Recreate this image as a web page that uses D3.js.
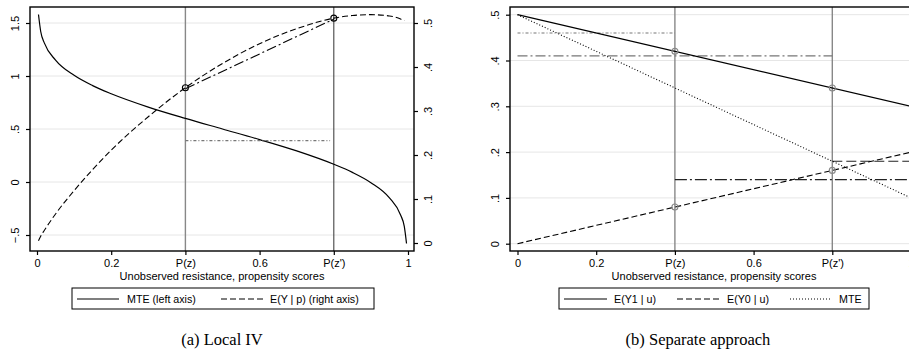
<!DOCTYPE html>
<html>
<head>
<meta charset="utf-8">
<script src="https://cdn.jsdelivr.net/npm/d3@7"></script>
<style>
  body { margin: 0; background: #fff; }
  text { font-family: "Liberation Sans", Arial, sans-serif; fill: #000; }
  .caption { font-family: "Liberation Serif", "DejaVu Serif", serif; font-size: 16.5px; }
</style>
</head>
<body>
<div id="container"></div>
<script>

// ---- data ----

// x axis ticks (both panels)
var xTickVals = [0, 0.2, 0.4, 0.6, 0.8, 1];
var xTickLabels = ["0", "0.2", "P(z)", "0.6", "P(z')", "1"];
var pz = 0.4, pz2 = 0.8;

// panel (a) axes
var leftTickVals = [-0.5, 0, 0.5, 1, 1.5];
var leftTickLabels = ["\u2212.5", "0", ".5", "1", "1.5"];
var rightTickVals = [0, 0.1, 0.2, 0.3, 0.4, 0.5];
var rightTickLabels = ["0", ".1", ".2", ".3", ".4", ".5"];

// panel (a) MTE curve (left axis)
var mteU = [0.004, 0.01, 0.02, 0.05, 0.1, 0.15, 0.2, 0.3, 0.4, 0.5, 0.6, 0.7, 0.8, 0.85, 0.9, 0.95, 0.98, 0.99, 0.996];
var mteVal = [1.58, 1.42, 1.31, 1.15, 1.006, 0.909, 0.833, 0.707, 0.60, 0.50, 0.40, 0.293, 0.167, 0.091, -0.006, -0.15, -0.311, -0.419, -0.58];

// panel (a) E(Y|p) curve (right axis)
var eyU = [0.004, 0.01, 0.02, 0.05, 0.1, 0.15, 0.2, 0.3, 0.4, 0.5, 0.6, 0.7, 0.8, 0.85, 0.9, 0.95, 0.98, 0.99];
var eyVal = [0.005, 0.0155, 0.029, 0.066, 0.119, 0.167, 0.211, 0.287, 0.353, 0.408, 0.453, 0.487, 0.511, 0.517, 0.519, 0.516, 0.509, 0.505];

// LATE level between P(z) and P(z') (left axis)
var lateVal = 0.39;

// panel (b) lines, given at u = 0 and u = 1
var lineU = [0, 1];
var y1Val = [0.5, 0.3];
var y0Val = [0, 0.2];
var mteB = [0.5, 0.1];

// panel (b) markers
var markU = [0.4, 0.8, 0.4, 0.8];
var markVal = [0.42, 0.34, 0.08, 0.16];

// panel (b) horizontal averages: start, end, level
var hStart = [0, 0, 0.4, 0.8];
var hEnd = [0.4, 0.8, 1.02, 1.02];
var hLevel = [0.46, 0.41, 0.14, 0.18];

// ---- drawing ----

var width = 909, height = 360;

var svg = d3.select("#container")
            .append("svg")
              .attr("width", width)
              .attr("height", height);

// styles for the horizontal segments in panel (b)
var hColor = ["#777", "#777", "#222", "#222"];
var hDash = ["3,2,1,2", "10,3,2,3", "12,3,2,3", "10,4"];

function xAxisBottom(g, x, y0) {
  var ax = g.append("g")
    .attr("transform", "translate(0," + y0 + ")")
    .call(d3.axisBottom(x).tickValues(xTickVals).tickSize(4)
            .tickFormat(function(d, i) { return xTickLabels[i]; }));
  ax.select(".domain").remove();
  ax.selectAll("line").attr("stroke", "#000").attr("stroke-width", 1.2);
  ax.selectAll("text").attr("y", 8).attr("dy", "0.71em")
    .style("font-size", "11px").style("font-family", "Liberation Sans, Arial, sans-serif");
}

function yAxisRotated(g, y, x0, vals, labels, side) {
  var axis = side == "left" ? d3.axisLeft(y) : d3.axisRight(y);
  var ax = g.append("g")
    .attr("transform", "translate(" + x0 + ",0)")
    .call(axis.tickValues(vals).tickSize(4)
            .tickFormat(function(d, i) { return labels[i]; }));
  ax.select(".domain").remove();
  ax.selectAll("line").attr("stroke", "#000").attr("stroke-width", 1.2);
  ax.selectAll("text")
    .attr("x", null).attr("dy", null)
    .attr("text-anchor", "middle")
    .attr("transform", side == "left" ? "translate(-11,0) rotate(-90)" : "translate(18,0) rotate(-90)")
    .style("font-size", "11px").style("font-family", "Liberation Sans, Arial, sans-serif");
}

function marker(g, cx, cy, color) {
  g.append("circle")
    .attr("cx", cx).attr("cy", cy).attr("r", 3)
    .attr("fill", "none").attr("stroke", color).attr("stroke-width", 1.1);
}

// ================= panel (a) Local IV =================
var box = {left: 30, right: 414, top: 7, bottom: 251};
var x = d3.scaleLinear().domain([0, 1]).range([37, 408]);
var yL = d3.scaleLinear().domain([0, 1.5]).range([182, 23]);
var yR = d3.scaleLinear().domain([0, 0.5]).range([243, 23]);

var ga = svg.append("g");

// gridlines from the left axis
ga.selectAll(".grid")
  .data(leftTickVals)
  .enter()
  .append("line")
    .attr("x1", box.left).attr("x2", box.right)
    .attr("y1", function(d) { return yL(d); })
    .attr("y2", function(d) { return yL(d); })
    .attr("stroke", "#e6e6e6").attr("stroke-width", 1);

// vertical lines at P(z) and P(z')
ga.append("line")
  .attr("x1", x(pz)).attr("x2", x(pz)).attr("y1", box.top).attr("y2", box.bottom)
  .attr("stroke", "#888").attr("stroke-width", 1.4);
ga.append("line")
  .attr("x1", x(pz2)).attr("x2", x(pz2)).attr("y1", box.top).attr("y2", box.bottom)
  .attr("stroke", "#444").attr("stroke-width", 1.1);

// MTE curve
var mteLine = d3.line()
  .x(function(d, i) { return x(mteU[i]); })
  .y(function(d) { return yL(d); })
  .curve(d3.curveMonotoneX);
ga.append("path")
  .attr("d", mteLine(mteVal))
  .attr("fill", "none").attr("stroke", "#000").attr("stroke-width", 1.2);

// E(Y|p) curve
var eyLine = d3.line()
  .x(function(d, i) { return x(eyU[i]); })
  .y(function(d) { return yR(d); })
  .curve(d3.curveMonotoneX);
ga.append("path")
  .attr("d", eyLine(eyVal))
  .attr("fill", "none").attr("stroke", "#000").attr("stroke-width", 1.1)
  .attr("stroke-dasharray", "6,3");

// chord between the two propensity scores
var eyPz = eyVal[eyU.indexOf(pz)], eyPz2 = eyVal[eyU.indexOf(pz2)];
ga.append("line")
  .attr("x1", x(pz)).attr("y1", yR(eyPz) + 1)
  .attr("x2", x(pz2)).attr("y2", yR(eyPz2) + 1)
  .attr("stroke", "#000").attr("stroke-width", 1.1)
  .attr("stroke-dasharray", "10,3,2,3");

// LATE level
ga.append("line")
  .attr("x1", x(pz)).attr("x2", x(0.79))
  .attr("y1", yL(lateVal)).attr("y2", yL(lateVal))
  .attr("stroke", "#777").attr("stroke-width", 1.1)
  .attr("stroke-dasharray", "3,2,1,2");

marker(ga, x(pz), yR(eyPz), "#000");
marker(ga, x(pz2), yR(eyPz2), "#000");

// plot box
ga.append("rect")
  .attr("x", box.left).attr("y", box.top)
  .attr("width", box.right - box.left).attr("height", box.bottom - box.top)
  .attr("fill", "none").attr("stroke", "#000").attr("stroke-width", 1.4);

xAxisBottom(ga, x, box.bottom);
yAxisRotated(ga, yL, box.left, leftTickVals, leftTickLabels, "left");
yAxisRotated(ga, yR, box.right, rightTickVals, rightTickLabels, "right");

ga.append("text")
  .attr("x", 222).attr("y", 280)
  .attr("text-anchor", "middle")
  .style("font-size", "11px")
  .text("Unobserved resistance, propensity scores");

// legend (a)
ga.append("rect")
  .attr("x", 72).attr("y", 288).attr("width", 302).attr("height", 21)
  .attr("fill", "#fff").attr("stroke", "#000").attr("stroke-width", 1);
ga.append("line")
  .attr("x1", 77).attr("x2", 119).attr("y1", 299).attr("y2", 299)
  .attr("stroke", "#000").attr("stroke-width", 1.1);
ga.append("text").attr("x", 127).attr("y", 303).style("font-size", "10.7px").text("MTE (left axis)");
ga.append("line")
  .attr("x1", 221).attr("x2", 263).attr("y1", 299).attr("y2", 299)
  .attr("stroke", "#000").attr("stroke-width", 1.1).attr("stroke-dasharray", "6,3");
ga.append("text").attr("x", 270).attr("y", 303).style("font-size", "10.7px").text("E(Y | p) (right axis)");

ga.append("text")
  .attr("class", "caption")
  .attr("x", 222).attr("y", 345)
  .attr("text-anchor", "middle")
  .text("(a) Local IV");

// ================= panel (b) Separate approach =================
var boxB = {left: 510, right: 918, top: 7, bottom: 251};
var xb = d3.scaleLinear().domain([0, 1]).range([517.5, 911]);
var yb = d3.scaleLinear().domain([0, 0.5]).range([243.7, 14.7]);

var gb = svg.append("g");

gb.selectAll(".grid")
  .data(rightTickVals)
  .enter()
  .append("line")
    .attr("x1", boxB.left).attr("x2", boxB.right)
    .attr("y1", function(d) { return yb(d); })
    .attr("y2", function(d) { return yb(d); })
    .attr("stroke", "#e6e6e6").attr("stroke-width", 1);

[pz, pz2].forEach(function(p) {
  gb.append("line")
    .attr("x1", xb(p)).attr("x2", xb(p)).attr("y1", boxB.top).attr("y2", boxB.bottom)
    .attr("stroke", "#888").attr("stroke-width", 1.4);
});

// horizontal averages
gb.selectAll(".avg")
  .data(hLevel)
  .enter()
  .append("line")
    .attr("x1", function(d, i) { return xb(hStart[i]); })
    .attr("x2", function(d, i) { return xb(hEnd[i]); })
    .attr("y1", function(d) { return yb(d); })
    .attr("y2", function(d) { return yb(d); })
    .attr("stroke", function(d, i) { return hColor[i]; })
    .attr("stroke-width", 1.2)
    .attr("stroke-dasharray", function(d, i) { return hDash[i]; });

var bLine = d3.line()
  .x(function(d, i) { return xb(lineU[i]); })
  .y(function(d) { return yb(d); });

gb.append("path").attr("d", bLine(y1Val))
  .attr("fill", "none").attr("stroke", "#000").attr("stroke-width", 1.2);
gb.append("path").attr("d", bLine(y0Val))
  .attr("fill", "none").attr("stroke", "#000").attr("stroke-width", 1.1)
  .attr("stroke-dasharray", "6,3");
gb.append("path").attr("d", bLine(mteB))
  .attr("fill", "none").attr("stroke", "#000").attr("stroke-width", 1.1)
  .attr("stroke-dasharray", "1,2");

markVal.forEach(function(v, i) {
  marker(gb, xb(markU[i]), yb(v), "#888");
});

gb.append("rect")
  .attr("x", boxB.left).attr("y", boxB.top)
  .attr("width", boxB.right - boxB.left).attr("height", boxB.bottom - boxB.top)
  .attr("fill", "none").attr("stroke", "#000").attr("stroke-width", 1.4);

xAxisBottom(gb, xb, boxB.bottom);
yAxisRotated(gb, yb, boxB.left, rightTickVals, rightTickLabels, "left");

gb.append("text")
  .attr("x", 714).attr("y", 280)
  .attr("text-anchor", "middle")
  .style("font-size", "11px")
  .text("Unobserved resistance, propensity scores");

// legend (b)
gb.append("rect")
  .attr("x", 559).attr("y", 288).attr("width", 310).attr("height", 21)
  .attr("fill", "#fff").attr("stroke", "#000").attr("stroke-width", 1);
gb.append("line")
  .attr("x1", 564).attr("x2", 607).attr("y1", 299).attr("y2", 299)
  .attr("stroke", "#000").attr("stroke-width", 1.1);
gb.append("text").attr("x", 614).attr("y", 303).style("font-size", "10.7px").text("E(Y1 | u)");
gb.append("line")
  .attr("x1", 677).attr("x2", 720).attr("y1", 299).attr("y2", 299)
  .attr("stroke", "#000").attr("stroke-width", 1.1).attr("stroke-dasharray", "6,3");
gb.append("text").attr("x", 727).attr("y", 303).style("font-size", "10.7px").text("E(Y0 | u)");
gb.append("line")
  .attr("x1", 790).attr("x2", 831).attr("y1", 299).attr("y2", 299)
  .attr("stroke", "#000").attr("stroke-width", 1.1).attr("stroke-dasharray", "1,2");
gb.append("text").attr("x", 839).attr("y", 303).style("font-size", "10.7px").text("MTE");

gb.append("text")
  .attr("class", "caption")
  .attr("x", 698).attr("y", 345)
  .attr("text-anchor", "middle")
  .text("(b) Separate approach");

</script>
</body>
</html>
